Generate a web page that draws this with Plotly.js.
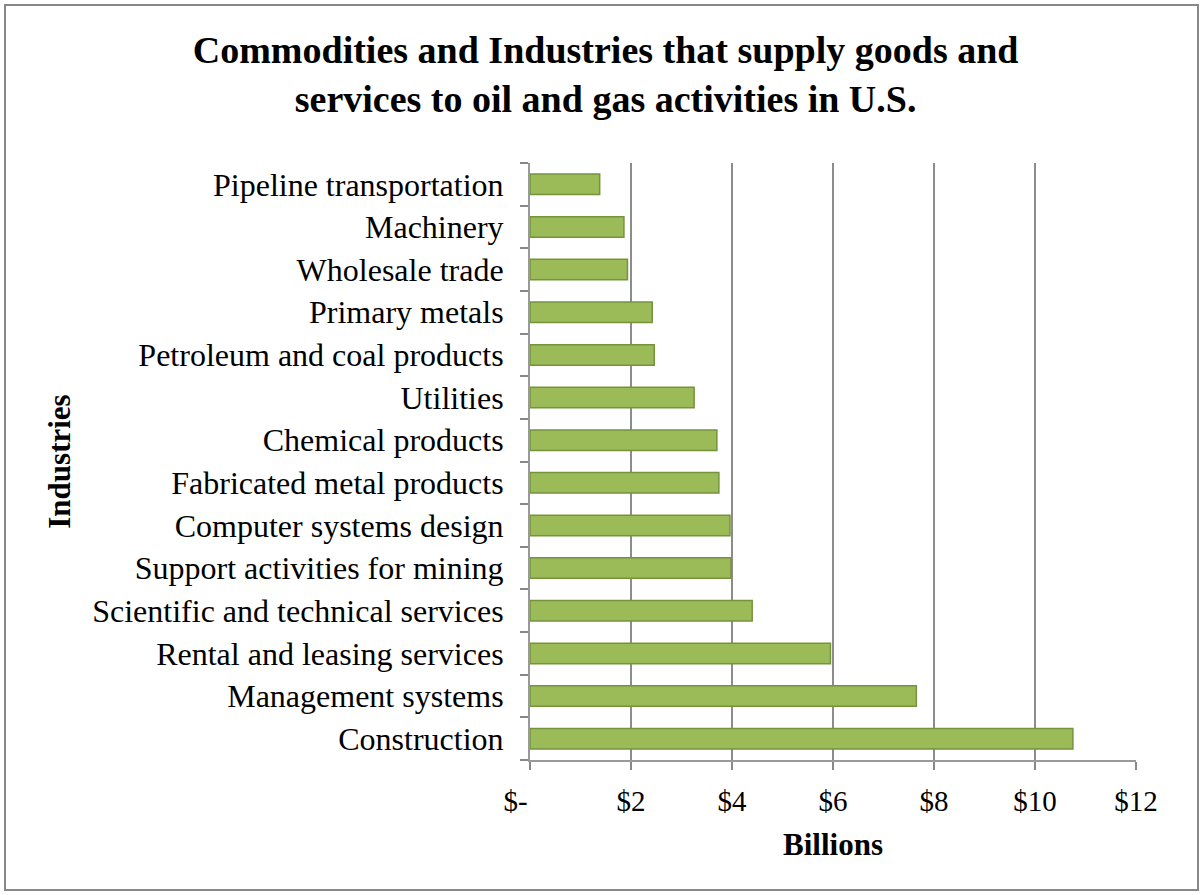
<!DOCTYPE html>
<html>
<head>
<meta charset="utf-8">
<script src="https://cdn.plot.ly/plotly-3.0.1.min.js"></script>
<style>html,body{margin:0;padding:0;background:#fff;}#chart{width:1204px;height:895px;}</style>
</head>
<body>
<div id="chart"></div>
<script>
const industries = [
  "Construction",
  "Management systems",
  "Rental and leasing services",
  "Scientific and technical services",
  "Support activities for mining",
  "Computer systems design",
  "Fabricated metal products",
  "Chemical products",
  "Utilities",
  "Petroleum and coal products",
  "Primary metals",
  "Wholesale trade",
  "Machinery",
  "Pipeline transportation"
];
const valuesBillions = [10.75, 7.65, 5.95, 4.4, 3.98, 3.96, 3.74, 3.7, 3.25, 2.46, 2.42, 1.93, 1.86, 1.38];
const xTickVals = [0, 2, 4, 6, 8, 10, 12];
const xTickText = ["$-\u00a0\u00a0\u00a0\u00a0", "$2", "$4", "$6", "$8", "$10", "$12"];

const serif = "'Liberation Serif', 'Times New Roman', serif";

const trace = {
  type: "bar",
  orientation: "h",
  y: industries,
  x: valuesBillions,
  marker: {color: "#9BBB59", line: {color: "#76923C", width: 1.5}},
  hoverinfo: "x+y"
};

const layout = {
  width: 1204,
  height: 895,
  paper_bgcolor: "#ffffff",
  plot_bgcolor: "#ffffff",
  margin: {l: 530, r: 68, t: 163, b: 135},
  bargap: 0.52,
  showlegend: false,
  title: {
    text: "<b>Commodities and Industries that supply goods and<br>services to oil and gas activities in U.S.</b>",
    font: {family: serif, size: 38, color: "#000"},
    x: 0.503, xanchor: "center",
    y: 0.93, yanchor: "top"
  },
  xaxis: {
    range: [0, 12],
    tickvals: xTickVals,
    ticktext: xTickText,
    tickfont: {family: serif, size: 29, color: "#000"},
    ticks: "outside", ticklen: 8, tickcolor: "#888", tickwidth: 2,
    ticklabelstandoff: 6,
    showgrid: true, gridcolor: "#8c8c8c", gridwidth: 2,
    showline: true, linecolor: "#999", linewidth: 2,
    zeroline: false,
    title: {text: "<b>Billions</b>", font: {family: serif, size: 31, color: "#000"}, standoff: 18},
    fixedrange: true
  },
  yaxis: {
    type: "category",
    categoryorder: "array",
    categoryarray: industries,
    tickfont: {family: serif, size: 32, color: "#000"},
    ticks: "outside", ticklen: 8, tickcolor: "#888", tickwidth: 2,
    tickson: "boundaries",
    ticklabelstandoff: 18,
    showgrid: false,
    showline: true, linecolor: "#999", linewidth: 2,
    title: {text: "<b>Industries</b>", font: {family: serif, size: 31, color: "#000"}, standoff: 12},
    fixedrange: true
  }
};

// outer chart border
layout.shapes = [{
  type: "rect", xref: "paper", yref: "paper",
  x0: -525/606, x1: 1 + 62/606,
  y0: -(130/597), y1: 1 + 158/597,
  line: {color: "#888", width: 2}, layer: "below"
}];

Plotly.newPlot("chart", [trace], layout, {displayModeBar: false, staticPlot: true});
</script>
</body>
</html>
